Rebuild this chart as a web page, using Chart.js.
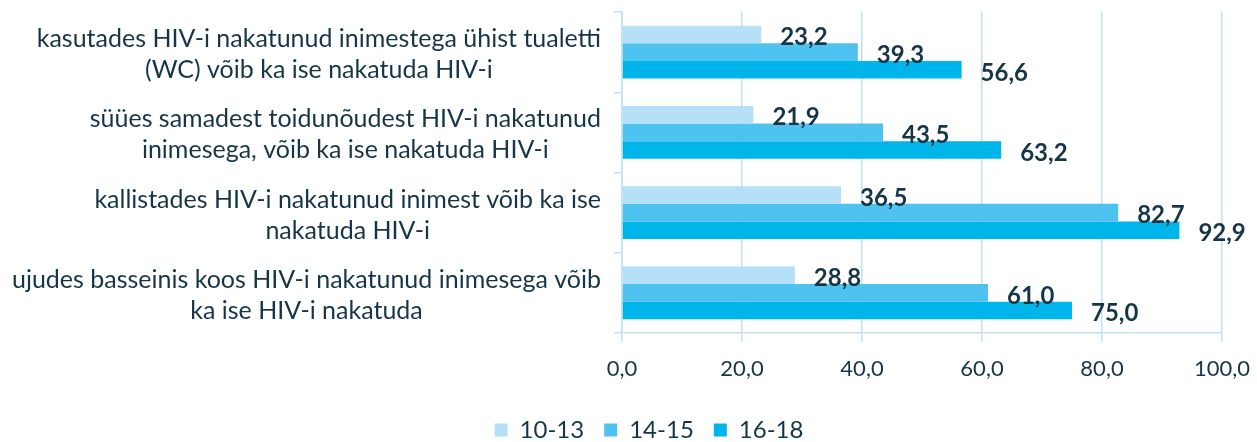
<!DOCTYPE html>
<html>
<head>
<meta charset="utf-8">
<script src="https://cdn.jsdelivr.net/npm/chart.js@4/dist/chart.umd.min.js"></script>
<style>
  html, body { margin: 0; padding: 0; background: #ffffff; }
  #wrap { width: 1257px; height: 442px; position: relative; }
</style>
</head>
<body>
<div id="wrap"><canvas id="c" width="1257" height="442"></canvas></div>
<script>
// ---- data ----
const categories = [
  ["kasutades HIV-i nakatunud inimestega ühist tualetti", "(WC) võib ka ise nakatuda HIV-i"],
  ["süües samadest toidunõudest HIV-i nakatunud", "inimesega, võib ka ise nakatuda HIV-i"],
  ["kallistades HIV-i nakatunud inimest võib ka ise", "nakatuda HIV-i"],
  ["ujudes basseinis koos HIV-i nakatunud inimesega võib", "ka ise HIV-i nakatuda"]
];
const seriesNames = ["10-13", "14-15", "16-18"];
const age10_13 = [23.2, 21.9, 36.5, 28.8];
const age14_15 = [39.3, 43.5, 82.7, 61.0];
const age16_18 = [56.6, 63.2, 92.9, 75.0];
const xTicks = [0, 20, 40, 60, 80, 100];

// ---- style ----
const TEXT = '#163648';
const GRID = '#bfe2f5';
const COLORS = ['#b6e0f7', '#4ec3ef', '#00b5e9'];
const FONT = 'Lato, "Open Sans", sans-serif';
const fmt = v => Number(v).toFixed(1).replace('.', ',');

const catLabelPlugin = {
  id: 'catLabels',
  afterDraw(chart) {
    const ys = chart.scales.y;
    const ctx = chart.ctx;
    ctx.save();
    ctx.font = '25px ' + FONT;
    ctx.fillStyle = TEXT;
    ctx.textAlign = 'center';
    ctx.textBaseline = 'middle';
    const right = chart.chartArea.left - 21;
    categories.forEach((lines, i) => {
      const yc = ys.getPixelForValue(i);
      const w = Math.max(...lines.map(l => ctx.measureText(l).width));
      const xc = right - w / 2;
      const offs = lines.length === 2 ? [-13, 18] : [3];
      lines.forEach((l, k) => ctx.fillText(l, xc, yc + offs[k]));
    });
    ctx.restore();
  }
};

const valueLabelPlugin = {
  id: 'valueLabels',
  afterDatasetsDraw(chart) {
    const ctx = chart.ctx;
    ctx.save();
    ctx.font = 'bold 24px ' + FONT;
    ctx.fillStyle = TEXT;
    ctx.textAlign = 'left';
    ctx.textBaseline = 'middle';
    chart.data.datasets.forEach((ds, di) => {
      const meta = chart.getDatasetMeta(di);
      meta.data.forEach((bar, i) => {
        ctx.fillText(fmt(ds.data[i]), bar.x + 19, bar.y + 3);
      });
    });
    ctx.restore();
  }
};

new Chart(document.getElementById('c'), {
  type: 'bar',
  data: {
    labels: categories.map(c => c.join(' ')),
    datasets: [
      { label: seriesNames[0], data: age10_13, backgroundColor: COLORS[0] },
      { label: seriesNames[1], data: age14_15, backgroundColor: COLORS[1] },
      { label: seriesNames[2], data: age16_18, backgroundColor: COLORS[2] }
    ]
  },
  options: {
    indexAxis: 'y',
    responsive: false,
    animation: false,
    devicePixelRatio: 1,
    layout: { padding: { left: 76, right: 35, top: 12, bottom: -10 } },
    datasets: { bar: { categoryPercentage: 0.66, barPercentage: 1.0, borderWidth: 0 } },
    scales: {
      x: {
        min: 0, max: 100,
        afterBuildTicks(scale) { scale.ticks = xTicks.map(v => ({ value: v })); },
        afterFit(scale) { scale.height = 65; scale.paddingLeft = 0; scale.paddingRight = 0; },
        grid: { color: GRID, lineWidth: 1.5, tickLength: 9, drawTicks: true },
        border: { color: GRID, width: 1.5 },
        ticks: {
          color: TEXT, font: { family: FONT, size: 22 }, padding: 14,
          callback: v => fmt(v)
        }
      },
      y: {
        afterFit(scale) { scale.width = 546; },
        grid: { drawOnChartArea: false, drawTicks: true, tickLength: 8, color: GRID, lineWidth: 1.5, offset: true },
        border: { color: GRID, width: 1.5 },
        ticks: { display: false }
      }
    },
    plugins: {
      legend: {
        position: 'bottom',
        labels: {
          color: TEXT, font: { family: FONT, size: 24 },
          boxWidth: 13, boxHeight: 13, padding: 20
        }
      },
      tooltip: { enabled: false }
    }
  },
  plugins: [catLabelPlugin, valueLabelPlugin]
});
</script>
</body>
</html>
